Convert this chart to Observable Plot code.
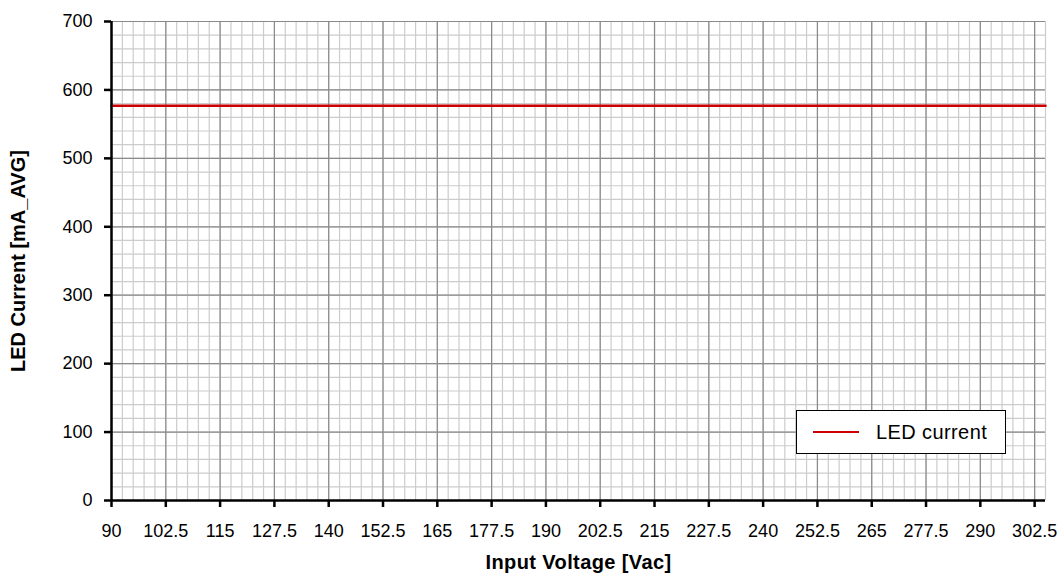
<!DOCTYPE html>
<html><head><meta charset="utf-8">
<script src="https://cdn.jsdelivr.net/npm/d3@7"></script>
<script src="https://cdn.jsdelivr.net/npm/@observablehq/plot@0.6"></script>
<style>
body{margin:0;background:#fff;}
#chart{position:relative;width:1060px;height:582px;}
.legend{position:absolute;left:796px;top:410px;width:210px;height:44px;border:1px solid #000;background:#fff;box-sizing:border-box;font-family:"Liberation Sans",Arial,sans-serif;font-size:20px;letter-spacing:0.4px;color:#000}
.legend .sw{position:absolute;left:16px;top:20px;width:46px;height:2px;background:#cc0000}
.legend .lb{position:absolute;left:79px;top:9px;line-height:24px}
</style></head>
<body><div id="chart"></div>
<script>
// Data
const inputVoltage = [90, 102.5, 115, 127.5, 140, 152.5, 165, 177.5, 190, 202.5, 215, 227.5, 240, 252.5, 265, 277.5, 290, 302.5, 305];
const ledCurrent   = [577, 577, 577, 577, 577, 577, 577, 577, 577, 577, 577, 577, 577, 577, 577, 577, 577, 577, 577];
const seriesName = "LED current";
const xTicks = [90, 102.5, 115, 127.5, 140, 152.5, 165, 177.5, 190, 202.5, 215, 227.5, 240, 252.5, 265, 277.5, 290, 302.5];
const yTicks = [0, 100, 200, 300, 400, 500, 600, 700];
const xDomain = [90, 305];
const yDomain = [0, 700];
const xMinorStep = 2.5;
const yMinorStep = 20;

const rows = inputVoltage.map((v, i) => ({v, c: ledCurrent[i]}));
const xMinor = d3.range(xDomain[0], xDomain[1] + 0.001, xMinorStep);
const yMinor = d3.range(yDomain[0], yDomain[1] + 0.001, yMinorStep);

const plot = Plot.plot({
  width: 1060,
  height: 582,
  marginLeft: 111,
  marginRight: 15,
  marginTop: 21,
  marginBottom: 82,
  style: {fontFamily: '"Liberation Sans", Arial, sans-serif', fontSize: "18px", color: "#000", background: "#fff"},
  x: {domain: xDomain},
  y: {domain: yDomain},
  marks: [
    Plot.ruleX(xMinor, {stroke: "#cccccc", strokeWidth: 1.2}),
    Plot.ruleY(yMinor, {stroke: "#cccccc", strokeWidth: 1.2}),
    Plot.ruleX(xTicks, {stroke: "#8a8a8a", strokeWidth: 1.2}),
    Plot.ruleY(yTicks, {stroke: "#8a8a8a", strokeWidth: 1.2}),
    Plot.lineY(rows, {x: "v", y: "c", stroke: "#cc0000", strokeWidth: 2.5}),
    Plot.ruleX([xDomain[0]], {stroke: "#000", strokeWidth: 2.5}),
    Plot.ruleY([yDomain[0]], {stroke: "#000", strokeWidth: 2.5}),
    Plot.axisX({ticks: xTicks, tickFormat: d => String(d), tickSize: 7, tickPadding: 17, strokeWidth: 2.5, fontSize: 18,
      label: "Input Voltage [Vac]", labelAnchor: "center", labelArrow: "none", labelOffset: 68}),
    Plot.axisY({ticks: yTicks, tickSize: 7, tickPadding: 12, strokeWidth: 2.5, fontSize: 18,
      label: "LED Current [mA_AVG]", labelAnchor: "center", labelArrow: "none", labelOffset: 101})
  ]
});

const svg = d3.select(plot);
svg.selectAll('g[aria-label="x-axis tick label"] text, g[aria-label="y-axis tick label"] text')
  .style("font-size", "18px");
svg.selectAll('g[aria-label="x-axis label"] text')
  .style("font-weight", "bold").style("font-size", "20px").style("letter-spacing", "0.4px");
svg.selectAll('g[aria-label="y-axis label"] text')
  .style("font-weight", "bold").style("font-size", "20px");

const chart = document.getElementById("chart");
chart.appendChild(plot);
const legend = document.createElement("div");
legend.className = "legend";
legend.innerHTML = '<div class="sw"></div><div class="lb"></div>';
legend.querySelector(".lb").textContent = seriesName;
chart.appendChild(legend);
</script>
</body></html>
